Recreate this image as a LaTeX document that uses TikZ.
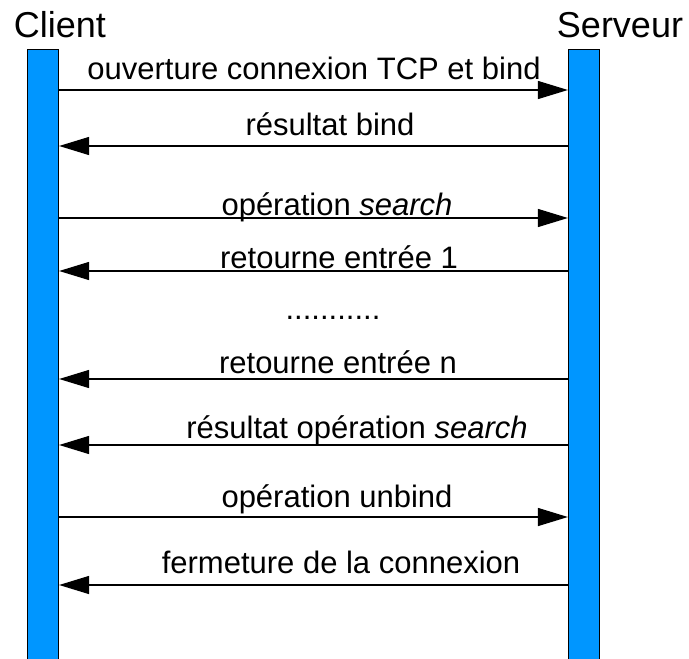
\documentclass[tikz,border=0pt]{standalone}
\usepackage{fontspec}
\setmainfont{Liberation Sans}
\usetikzlibrary{arrows.meta, positioning}
\definecolor{barblue}{HTML}{0096FF}

\begin{document}
\begin{tikzpicture}[x=1pt, y=-1pt,
    bar/.style={draw, line width=1.2pt, fill=barblue, minimum width=31pt,
                minimum height=640pt, inner sep=0pt, anchor=north},
    actor/.style={font=\fontsize{36}{40}\selectfont, anchor=base, inner sep=0pt},
    lbl/.style={font=\fontsize{31}{36}\selectfont, anchor=base, inner sep=0pt},
    arr/.style={-{Triangle[length=30pt, width=18pt]}, line width=1.3pt}]
    \useasboundingbox (0,0) rectangle (689,659);
    \node[bar] (cli) at (43,49) {};
    \node[bar] (srv) at (584,49) {};
    \node[actor] (clitxt) at (60,37) {Client};
    \node[actor] (srvtxt) at (620,37) {Serveur};
    \node[lbl] (m1) at (314,79) {ouverture connexion TCP et bind};
    \node[lbl] (m2) at (330,135) {résultat bind};
    \node[lbl] (m3) at (337,215) {opération \textit{search}};
    \node[lbl] (m4) at (339,268) {retourne entrée 1};
    \node[lbl] (dots) at (333,319) {...........};
    \node[lbl] (m5) at (338,373) {retourne entrée n};
    \node[lbl] (m6) at (357,438) {résultat opération \textit{search}};
    \node[lbl] (m7) at (337,507) {opération unbind};
    \node[lbl] (m8) at (341,573) {fermeture de la connexion};
    \draw[arr] (cli.east |- 0,90) -- (srv.west |- 0,90);
    \draw[arr] (srv.west |- 0,146) -- (cli.east |- 0,146);
    \draw[arr] (cli.east |- 0,218) -- (srv.west |- 0,218);
    \draw[arr] (srv.west |- 0,271) -- (cli.east |- 0,271);
    \draw[arr] (srv.west |- 0,379) -- (cli.east |- 0,379);
    \draw[arr] (srv.west |- 0,445) -- (cli.east |- 0,445);
    \draw[arr] (cli.east |- 0,517) -- (srv.west |- 0,517);
    \draw[arr] (srv.west |- 0,585) -- (cli.east |- 0,585);
  \end{tikzpicture}
\end{document}
